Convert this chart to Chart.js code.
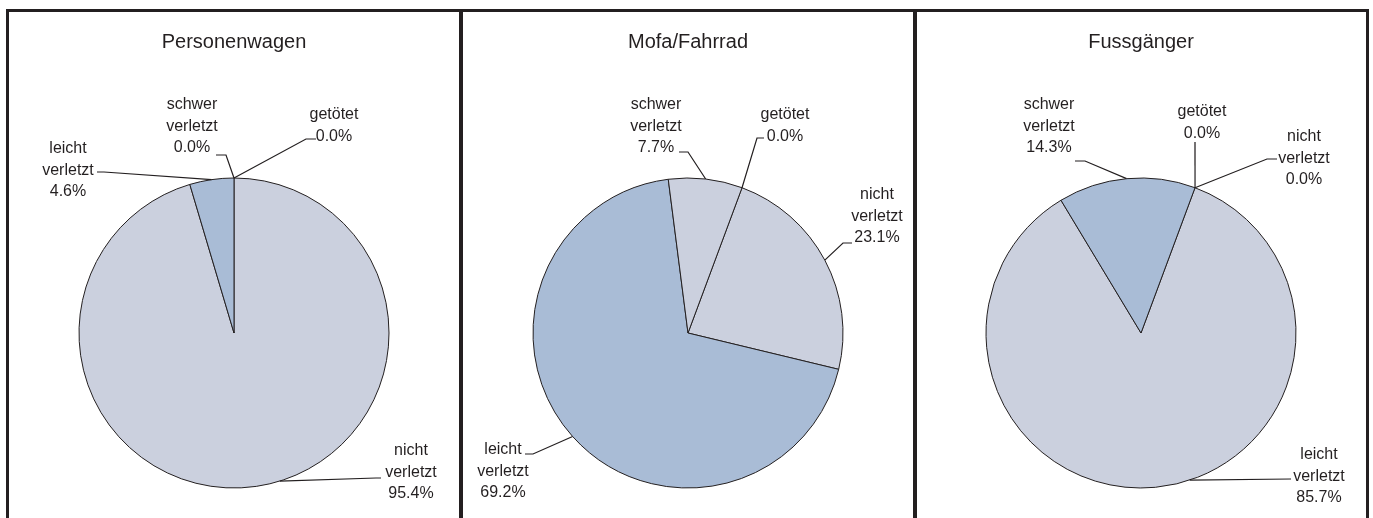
<!DOCTYPE html>
<html>
<head>
<meta charset="utf-8">
<script src="https://cdn.jsdelivr.net/npm/chart.js@4.4.1/dist/chart.umd.min.js"></script>
<style>
  html, body { margin: 0; padding: 0; background: #ffffff; }
  #wrap { position: relative; width: 1373px; height: 518px; overflow: hidden; background: #fff; }
  canvas { position: absolute; left: 0; top: 0; }
  .fr { position: absolute; background: #231F20; }
</style>
</head>
<body>
<div id="wrap">
  <canvas id="c0" width="1373" height="518"></canvas>
  <canvas id="c1" width="1373" height="518"></canvas>
  <canvas id="c2" width="1373" height="518"></canvas>
  <div class="fr" style="left:6px;top:9px;width:1363px;height:3px"></div>
  <div class="fr" style="left:6px;top:9px;width:3px;height:509px"></div>
  <div class="fr" style="left:1366px;top:9px;width:3px;height:509px"></div>
  <div class="fr" style="left:459px;top:9px;width:4px;height:509px"></div>
  <div class="fr" style="left:913px;top:9px;width:4px;height:509px"></div>
</div>
<script>
// ---- data ----
const categories = ['nicht verletzt', 'leicht verletzt', 'schwer verletzt', 'getötet'];
const chartTitles = ['Personenwagen', 'Mofa/Fahrrad', 'Fussgänger'];
const personenwagenValues = [95.4, 4.6, 0.0, 0.0];
const mofaFahrradValues = [23.1, 69.2, 7.7, 0.0];
const fussgaengerValues = [0.0, 85.7, 14.3, 0.0];

// ---- styles / layout ----
const LIGHT = '#CBD0DE';
const BLUE = '#A9BCD6';
const INK = '#231F20';
const FONT = "'Liberation Sans', Arial, sans-serif";

const panels = [
  { values: personenwagenValues, colors: [LIGHT, BLUE, LIGHT, BLUE], rotation: 0, cx: 234,
    labels: [
      { x: 411, y: 451, start: [381, 478], elbow: [376, 478], frac: 0.474 },
      { x: 68, y: 149, start: [97, 172], elbow: [104, 172] },
      { x: 192, y: 105, start: [216, 155], elbow: [226, 155] },
      { x: 334, y: 115, start: [316, 139], elbow: [306, 139] }
    ] },
  { values: mofaFahrradValues, colors: [LIGHT, BLUE, LIGHT, BLUE], rotation: 20.4, cx: 688,
    labels: [
      { x: 877, y: 195, start: [852, 243], elbow: [843, 243] },
      { x: 503, y: 450, start: [525, 454], elbow: [533, 454] },
      { x: 656, y: 105, start: [679, 152], elbow: [688, 152] },
      { x: 785, y: 115, start: [764, 138], elbow: [757, 138] }
    ] },
  { values: fussgaengerValues, colors: [BLUE, LIGHT, BLUE, LIGHT], rotation: 20.4, cx: 1141,
    labels: [
      { x: 1304, y: 137, start: [1277, 159], elbow: [1267, 159] },
      { x: 1319, y: 455, start: [1291, 479], elbow: [1291, 479], frac: 0.458 },
      { x: 1049, y: 105, start: [1075, 161], elbow: [1085, 161] },
      { x: 1202, y: 112, start: [1195, 142], elbow: [1195, 142] }
    ] }
];

const CY = 333, R = 155.5, W = 1373, H = 518, LH = 21.5;

function labelLines(cat, v) {
  const parts = cat.split(' ');
  return parts.concat([v.toFixed(1) + '%']);
}

const labelPlugin = {
  id: 'pieLabels',
  afterDraw(chart) {
    const p = chart.options.plugins.pieLabels;
    const ctx = chart.ctx;
    const meta = chart.getDatasetMeta(0);
    const vals = chart.data.datasets[0].data;
    ctx.save();
    // title
    ctx.fillStyle = INK;
    ctx.font = '20px ' + FONT;
    ctx.textAlign = 'center';
    ctx.textBaseline = 'alphabetic';
    ctx.fillText(p.title, p.cx, 48);
    // labels
    ctx.font = '16px ' + FONT;
    ctx.textBaseline = 'middle';
    ctx.strokeStyle = INK;
    ctx.lineWidth = 1.2;
    chart.data.labels.forEach((cat, i) => {
      const L = p.labels[i];
      const lines = labelLines(cat, vals[i]);
      lines.forEach((t, k) => ctx.fillText(t, L.x, L.y + k * LH));
      const arc = meta.data[i];
      const f = (L.frac !== undefined) ? L.frac : 0.5;
      const a = arc.startAngle + f * (arc.endAngle - arc.startAngle);
      const tx = arc.x + arc.outerRadius * Math.cos(a);
      const ty = arc.y + arc.outerRadius * Math.sin(a);
      ctx.beginPath();
      ctx.moveTo(L.start[0], L.start[1]);
      ctx.lineTo(L.elbow[0], L.elbow[1]);
      ctx.lineTo(tx, ty);
      ctx.stroke();
    });
    ctx.restore();
  }
};

panels.forEach((p, idx) => {
  new Chart(document.getElementById('c' + idx), {
    type: 'pie',
    data: {
      labels: categories,
      datasets: [{
        data: p.values,
        backgroundColor: p.colors,
        borderColor: INK,
        borderWidth: 1
      }]
    },
    options: {
      responsive: false,
      animation: false,
      rotation: p.rotation,
      layout: { padding: { left: p.cx - R, right: W - (p.cx + R), top: CY - R, bottom: H - (CY + R) } },
      plugins: {
        legend: { display: false },
        tooltip: { enabled: false },
        title: { display: false },
        pieLabels: { title: chartTitles[idx], cx: p.cx, labels: p.labels }
      }
    },
    plugins: [labelPlugin]
  });
});
</script>
</body>
</html>
